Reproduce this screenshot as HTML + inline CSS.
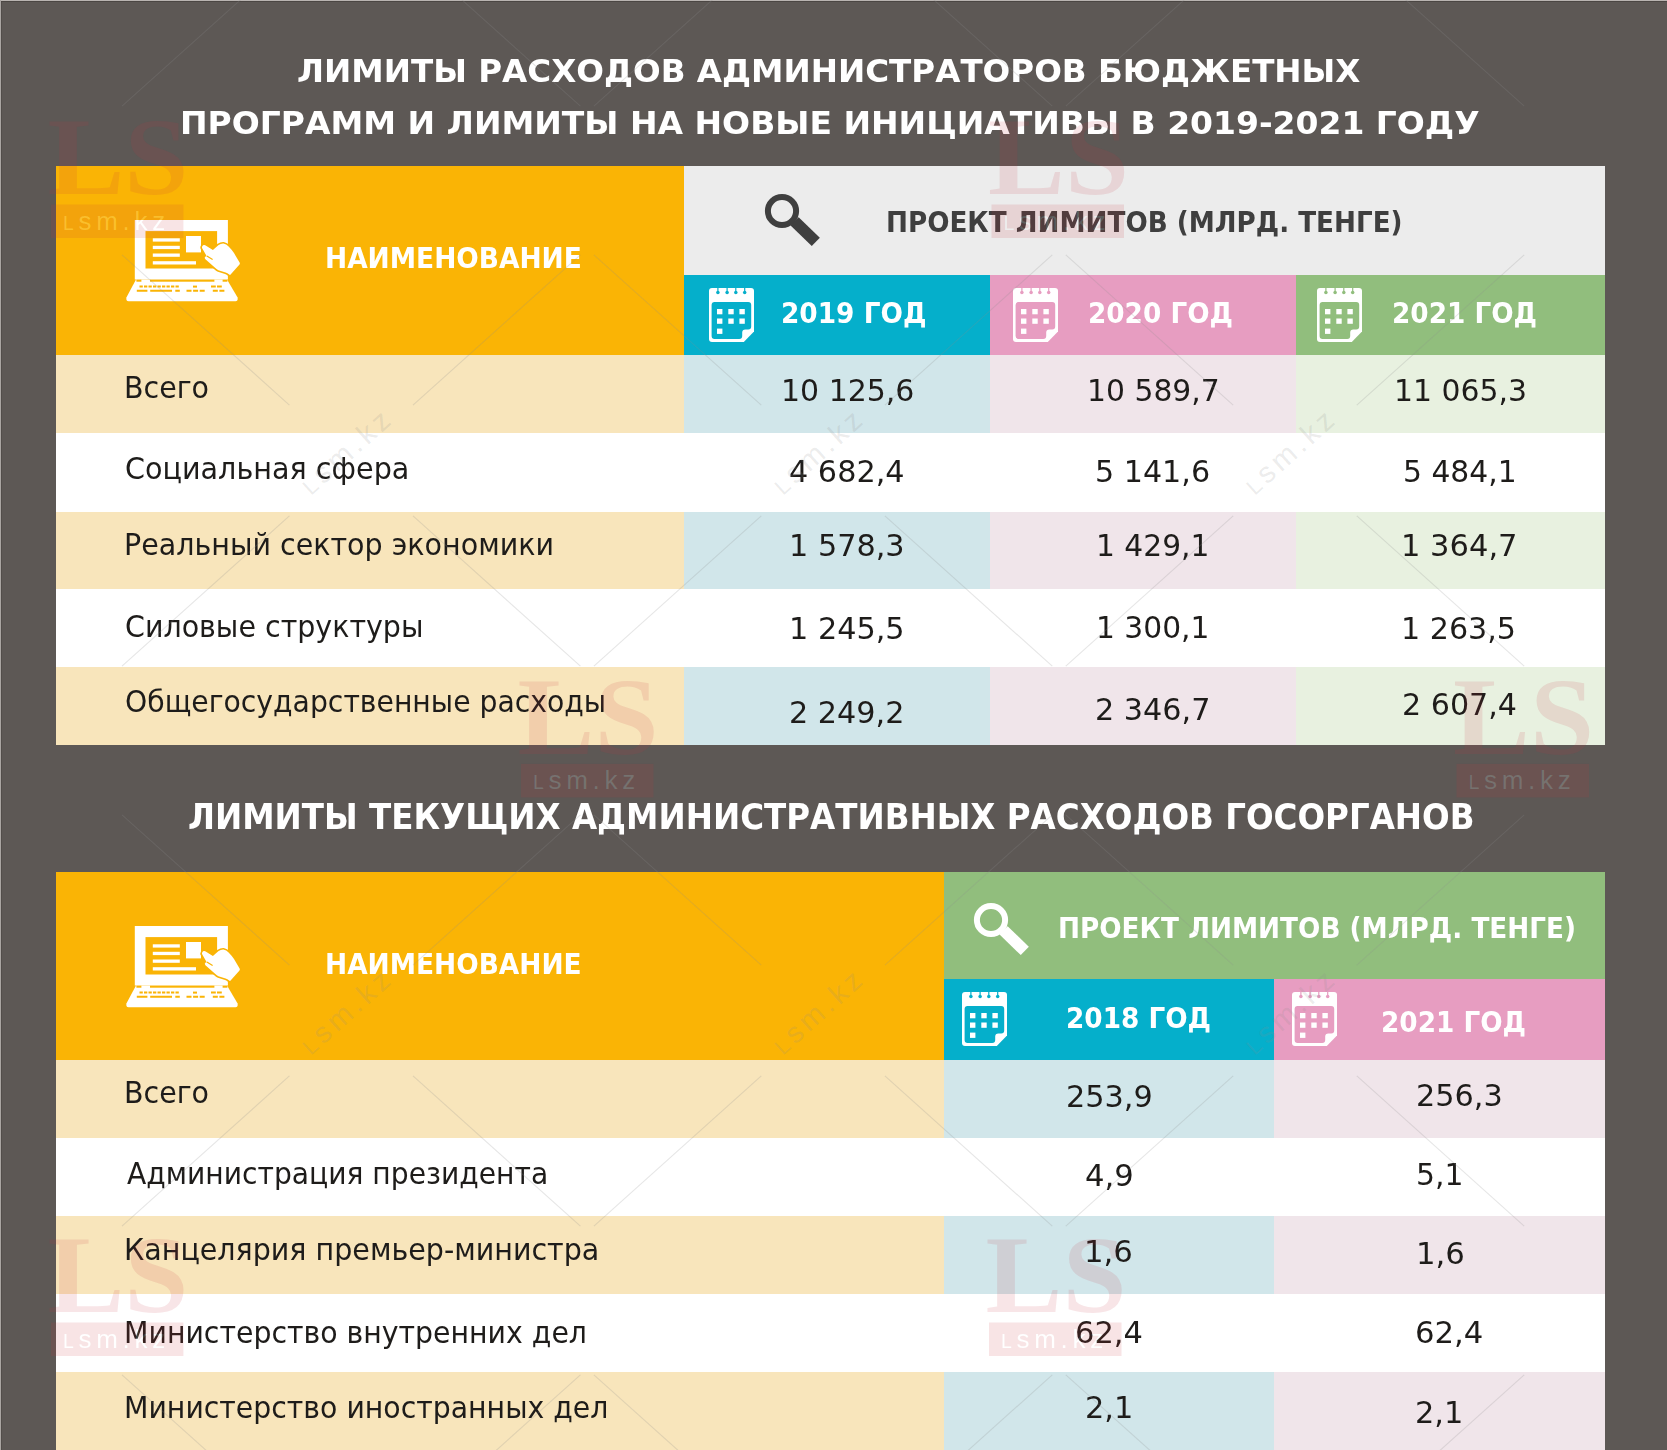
<!DOCTYPE html>
<html lang="ru"><head><meta charset="utf-8"><title>Лимиты расходов администраторов бюджетных программ</title>
<style>
html,body{margin:0;padding:0;background:#5d5855;}
#page{position:relative;width:1667px;height:1450px;overflow:hidden;background:#5d5855;}
.b{position:absolute;}
.t{position:absolute;white-space:pre;line-height:0;transform-origin:0 50%;margin:0;padding:0;}
svg{position:absolute;overflow:visible;}
.wm{position:absolute;}

</style></head><body>
<div id="page">
<div class="b" style="left:0;top:0;width:1667px;height:1px;background:#b9b4b1"></div>
<div class="b" style="left:0;top:1px;width:1667px;height:1px;background:#4b4643"></div>
<div class="b" style="left:0;top:0;width:1px;height:1450px;background:#aaa5a2"></div>
<div class="b" style="left:1px;top:2px;width:1px;height:1448px;background:#524d4a"></div>
<div class="b" style="left:56px;top:165.5px;width:628px;height:189.5px;background:#fab405;"></div>
<div class="b" style="left:684px;top:165.5px;width:921.4px;height:109.0px;background:#ececec;"></div>
<div class="b" style="left:684px;top:274.5px;width:306px;height:80.5px;background:#05afcb;"></div>
<div class="b" style="left:990px;top:274.5px;width:306px;height:80.5px;background:#e79dc1;"></div>
<div class="b" style="left:1296px;top:274.5px;width:309.4px;height:80.5px;background:#91be7d;"></div>
<div class="b" style="left:56px;top:355px;width:628px;height:78px;background:#f8e5bb;"></div>
<div class="b" style="left:684px;top:355px;width:306px;height:78px;background:#d1e6ea;"></div>
<div class="b" style="left:990px;top:355px;width:306px;height:78px;background:#f0e5ea;"></div>
<div class="b" style="left:1296px;top:355px;width:309.4px;height:78px;background:#e8f1e0;"></div>
<div class="b" style="left:56px;top:433px;width:1549.4px;height:78.5px;background:#ffffff;"></div>
<div class="b" style="left:56px;top:511.5px;width:628px;height:77.1px;background:#f8e5bb;"></div>
<div class="b" style="left:684px;top:511.5px;width:306px;height:77.1px;background:#d1e6ea;"></div>
<div class="b" style="left:990px;top:511.5px;width:306px;height:77.1px;background:#f0e5ea;"></div>
<div class="b" style="left:1296px;top:511.5px;width:309.4px;height:77.1px;background:#e8f1e0;"></div>
<div class="b" style="left:56px;top:588.6px;width:1549.4px;height:78.4px;background:#ffffff;"></div>
<div class="b" style="left:56px;top:667px;width:628px;height:78.2px;background:#f8e5bb;"></div>
<div class="b" style="left:684px;top:667px;width:306px;height:78.2px;background:#d1e6ea;"></div>
<div class="b" style="left:990px;top:667px;width:306px;height:78.2px;background:#f0e5ea;"></div>
<div class="b" style="left:1296px;top:667px;width:309.4px;height:78.2px;background:#e8f1e0;"></div>
<div class="b" style="left:56px;top:872px;width:887.8px;height:188px;background:#fab405;"></div>
<div class="b" style="left:943.8px;top:872px;width:661.6px;height:106.5px;background:#91be7d;"></div>
<div class="b" style="left:943.8px;top:978.5px;width:330.2px;height:81.5px;background:#05afcb;"></div>
<div class="b" style="left:1274px;top:978.5px;width:331.4px;height:81.5px;background:#e79dc1;"></div>
<div class="b" style="left:56px;top:1060px;width:887.8px;height:78.3px;background:#f8e5bb;"></div>
<div class="b" style="left:943.8px;top:1060px;width:330.2px;height:78.3px;background:#d1e6ea;"></div>
<div class="b" style="left:1274px;top:1060px;width:331.4px;height:78.3px;background:#f0e5ea;"></div>
<div class="b" style="left:56px;top:1138.3px;width:1549.4px;height:77.9px;background:#ffffff;"></div>
<div class="b" style="left:56px;top:1216.2px;width:887.8px;height:78.2px;background:#f8e5bb;"></div>
<div class="b" style="left:943.8px;top:1216.2px;width:330.2px;height:78.2px;background:#d1e6ea;"></div>
<div class="b" style="left:1274px;top:1216.2px;width:331.4px;height:78.2px;background:#f0e5ea;"></div>
<div class="b" style="left:56px;top:1294.4px;width:1549.4px;height:77.8px;background:#ffffff;"></div>
<div class="b" style="left:56px;top:1372.2px;width:887.8px;height:77.8px;background:#f8e5bb;"></div>
<div class="b" style="left:943.8px;top:1372.2px;width:330.2px;height:77.8px;background:#d1e6ea;"></div>
<div class="b" style="left:1274px;top:1372.2px;width:331.4px;height:77.8px;background:#f0e5ea;"></div>
<svg style="left:125px;top:219px" width="116" height="84" viewBox="125 219 116 84"><path fill="#ffffff" d="M134.8 219.9H227.9V279.5H134.8Z"/><rect fill="#fab405" x="145.5" y="231.1" width="71.6" height="37.4"/><rect fill="#ffffff" x="152.8" y="238.3" width="27.0" height="3.3"/><rect fill="#ffffff" x="152.8" y="245.8" width="27.0" height="3.3"/><rect fill="#ffffff" x="152.8" y="253.5" width="27.0" height="3.3"/><rect fill="#ffffff" x="152.8" y="261.2" width="43.2" height="3.3"/><rect fill="#ffffff" x="186" y="236" width="15" height="16.4"/><path fill="#ffffff" d="M136 279.5H227L237.6 297.5Q238.2 301.3 235.5 301.3H128.5Q125.8 301.3 126.4 297.5Z"/><rect fill="#fab405" x="150" y="279.7" width="64.4" height="2"/><rect fill="#fab405" x="136.4" y="279.7" width="5" height="2"/><rect fill="#fab405" x="222.6" y="279.7" width="4.8" height="2"/><path stroke="#fab405" stroke-width="2" stroke-dasharray="3.3 1.2" fill="none" d="M139.5 286.6H180"/><path stroke="#fab405" stroke-width="2" fill="none" d="M193 286.6H197"/><path stroke="#fab405" stroke-width="2" stroke-dasharray="4.8 1.2" fill="none" d="M211 286.6H222"/><path stroke="#fab405" stroke-width="2" fill="none" d="M136.8 290.8H147.4M150.2 290.8H172M175.3 290.8H179.8"/><path stroke="#fab405" stroke-width="2" stroke-dasharray="5 1.6" fill="none" d="M186.5 290.8H205.5"/><path stroke="#fab405" stroke-width="2" stroke-dasharray="5 1.6" fill="none" d="M212.8 290.8H224.6"/><path d="M202.3 246.2Q203.2 244.4 205.2 245.2L212.9 249.9L218.6 245Q220.8 243.4 223.4 243.5Q226.4 244.2 228.6 246.6Q231.8 249.8 234 253.1L239.6 262.6Q240.2 263.6 239.5 264.6L230.6 274.6Q230 275.2 229.2 274.6Q227.4 273.2 225.6 272.6L218.4 270.2Q217.2 269.8 216.2 268.8L205.4 259.2Q204 257.6 205.6 256.6L206.7 256.2L202.3 248.6Q201.6 247.4 202.3 246.2Z" fill="#fab405" stroke="#fab405" stroke-width="3.2" stroke-linejoin="round"/><path d="M202.3 246.2Q203.2 244.4 205.2 245.2L212.9 249.9L218.6 245Q220.8 243.4 223.4 243.5Q226.4 244.2 228.6 246.6Q231.8 249.8 234 253.1L239.6 262.6Q240.2 263.6 239.5 264.6L230.6 274.6Q230 275.2 229.2 274.6Q227.4 273.2 225.6 272.6L218.4 270.2Q217.2 269.8 216.2 268.8L205.4 259.2Q204 257.6 205.6 256.6L206.7 256.2L202.3 248.6Q201.6 247.4 202.3 246.2Z" fill="#ffffff"/><path d="M206.9 256L212.6 259.4" stroke="#fab405" stroke-width="1.2" fill="none"/></svg>
<svg style="left:125px;top:925px" width="116" height="84" viewBox="125 219 116 84"><path fill="#ffffff" d="M134.8 219.9H227.9V279.5H134.8Z"/><rect fill="#fab405" x="145.5" y="231.1" width="71.6" height="37.4"/><rect fill="#ffffff" x="152.8" y="238.3" width="27.0" height="3.3"/><rect fill="#ffffff" x="152.8" y="245.8" width="27.0" height="3.3"/><rect fill="#ffffff" x="152.8" y="253.5" width="27.0" height="3.3"/><rect fill="#ffffff" x="152.8" y="261.2" width="43.2" height="3.3"/><rect fill="#ffffff" x="186" y="236" width="15" height="16.4"/><path fill="#ffffff" d="M136 279.5H227L237.6 297.5Q238.2 301.3 235.5 301.3H128.5Q125.8 301.3 126.4 297.5Z"/><rect fill="#fab405" x="150" y="279.7" width="64.4" height="2"/><rect fill="#fab405" x="136.4" y="279.7" width="5" height="2"/><rect fill="#fab405" x="222.6" y="279.7" width="4.8" height="2"/><path stroke="#fab405" stroke-width="2" stroke-dasharray="3.3 1.2" fill="none" d="M139.5 286.6H180"/><path stroke="#fab405" stroke-width="2" fill="none" d="M193 286.6H197"/><path stroke="#fab405" stroke-width="2" stroke-dasharray="4.8 1.2" fill="none" d="M211 286.6H222"/><path stroke="#fab405" stroke-width="2" fill="none" d="M136.8 290.8H147.4M150.2 290.8H172M175.3 290.8H179.8"/><path stroke="#fab405" stroke-width="2" stroke-dasharray="5 1.6" fill="none" d="M186.5 290.8H205.5"/><path stroke="#fab405" stroke-width="2" stroke-dasharray="5 1.6" fill="none" d="M212.8 290.8H224.6"/><path d="M202.3 246.2Q203.2 244.4 205.2 245.2L212.9 249.9L218.6 245Q220.8 243.4 223.4 243.5Q226.4 244.2 228.6 246.6Q231.8 249.8 234 253.1L239.6 262.6Q240.2 263.6 239.5 264.6L230.6 274.6Q230 275.2 229.2 274.6Q227.4 273.2 225.6 272.6L218.4 270.2Q217.2 269.8 216.2 268.8L205.4 259.2Q204 257.6 205.6 256.6L206.7 256.2L202.3 248.6Q201.6 247.4 202.3 246.2Z" fill="#fab405" stroke="#fab405" stroke-width="3.2" stroke-linejoin="round"/><path d="M202.3 246.2Q203.2 244.4 205.2 245.2L212.9 249.9L218.6 245Q220.8 243.4 223.4 243.5Q226.4 244.2 228.6 246.6Q231.8 249.8 234 253.1L239.6 262.6Q240.2 263.6 239.5 264.6L230.6 274.6Q230 275.2 229.2 274.6Q227.4 273.2 225.6 272.6L218.4 270.2Q217.2 269.8 216.2 268.8L205.4 259.2Q204 257.6 205.6 256.6L206.7 256.2L202.3 248.6Q201.6 247.4 202.3 246.2Z" fill="#ffffff"/><path d="M206.9 256L212.6 259.4" stroke="#fab405" stroke-width="1.2" fill="none"/></svg>
<svg style="left:757.3px;top:186.1px" width="70" height="70" viewBox="-25 -25 70 70"><circle cx="0" cy="0" r="14.1" fill="none" stroke="#3f3f3f" stroke-width="6"/><path d="M12.6 10.3L33.8 30.9" stroke="#3f3f3f" stroke-width="11.6" fill="none"/></svg>
<svg style="left:965.5px;top:895.1px" width="70" height="70" viewBox="-25 -25 70 70"><circle cx="0" cy="0" r="14.1" fill="none" stroke="#ffffff" stroke-width="6"/><path d="M12.6 10.3L33.8 30.9" stroke="#ffffff" stroke-width="11.6" fill="none"/></svg>
<svg style="left:708.8px;top:288px" width="45" height="54" viewBox="0 0 45 54"><path fill="#ffffff" d="M3 0H42Q45 0 45 3V43.6L34.8 54H3Q0 54 0 51V3Q0 0 3 0Z"/><path fill="#05afcb" d="M5.6 14H39.2Q42.2 14 42.2 17V38.4Q42.2 41.4 39.2 41.4H36.4Q33.2 41.4 33.2 44.6V48Q33.2 50.9 30.2 50.9H5.6Q2.6 50.9 2.6 47.9V17Q2.6 14 5.6 14Z"/><circle fill="#05afcb" cx="8.9" cy="4.4" r="1.75"/><rect fill="#05afcb" x="8.3" y="-0.2" width="1.2" height="4"/><circle fill="#05afcb" cx="18.1" cy="4.4" r="1.75"/><rect fill="#05afcb" x="17.5" y="-0.2" width="1.2" height="4"/><circle fill="#05afcb" cx="26.8" cy="4.4" r="1.75"/><rect fill="#05afcb" x="26.2" y="-0.2" width="1.2" height="4"/><circle fill="#05afcb" cx="35.7" cy="4.4" r="1.75"/><rect fill="#05afcb" x="35.1" y="-0.2" width="1.2" height="4"/><rect fill="#ffffff" x="8.0" y="21.0" width="5.4" height="5.3"/><rect fill="#ffffff" x="19.3" y="21.0" width="5.4" height="5.3"/><rect fill="#ffffff" x="30.4" y="21.0" width="5.4" height="5.3"/><rect fill="#ffffff" x="8.0" y="30.5" width="5.4" height="5.3"/><rect fill="#ffffff" x="19.3" y="30.5" width="5.4" height="5.3"/><rect fill="#ffffff" x="30.4" y="30.5" width="5.4" height="5.3"/><rect fill="#ffffff" x="8.0" y="40.6" width="5.4" height="5.3"/></svg>
<svg style="left:1012.5px;top:288px" width="45" height="54" viewBox="0 0 45 54"><path fill="#ffffff" d="M3 0H42Q45 0 45 3V43.6L34.8 54H3Q0 54 0 51V3Q0 0 3 0Z"/><path fill="#e79dc1" d="M5.6 14H39.2Q42.2 14 42.2 17V38.4Q42.2 41.4 39.2 41.4H36.4Q33.2 41.4 33.2 44.6V48Q33.2 50.9 30.2 50.9H5.6Q2.6 50.9 2.6 47.9V17Q2.6 14 5.6 14Z"/><circle fill="#e79dc1" cx="8.9" cy="4.4" r="1.75"/><rect fill="#e79dc1" x="8.3" y="-0.2" width="1.2" height="4"/><circle fill="#e79dc1" cx="18.1" cy="4.4" r="1.75"/><rect fill="#e79dc1" x="17.5" y="-0.2" width="1.2" height="4"/><circle fill="#e79dc1" cx="26.8" cy="4.4" r="1.75"/><rect fill="#e79dc1" x="26.2" y="-0.2" width="1.2" height="4"/><circle fill="#e79dc1" cx="35.7" cy="4.4" r="1.75"/><rect fill="#e79dc1" x="35.1" y="-0.2" width="1.2" height="4"/><rect fill="#ffffff" x="8.0" y="21.0" width="5.4" height="5.3"/><rect fill="#ffffff" x="19.3" y="21.0" width="5.4" height="5.3"/><rect fill="#ffffff" x="30.4" y="21.0" width="5.4" height="5.3"/><rect fill="#ffffff" x="8.0" y="30.5" width="5.4" height="5.3"/><rect fill="#ffffff" x="19.3" y="30.5" width="5.4" height="5.3"/><rect fill="#ffffff" x="30.4" y="30.5" width="5.4" height="5.3"/><rect fill="#ffffff" x="8.0" y="40.6" width="5.4" height="5.3"/></svg>
<svg style="left:1316.6px;top:288px" width="45" height="54" viewBox="0 0 45 54"><path fill="#ffffff" d="M3 0H42Q45 0 45 3V43.6L34.8 54H3Q0 54 0 51V3Q0 0 3 0Z"/><path fill="#91be7d" d="M5.6 14H39.2Q42.2 14 42.2 17V38.4Q42.2 41.4 39.2 41.4H36.4Q33.2 41.4 33.2 44.6V48Q33.2 50.9 30.2 50.9H5.6Q2.6 50.9 2.6 47.9V17Q2.6 14 5.6 14Z"/><circle fill="#91be7d" cx="8.9" cy="4.4" r="1.75"/><rect fill="#91be7d" x="8.3" y="-0.2" width="1.2" height="4"/><circle fill="#91be7d" cx="18.1" cy="4.4" r="1.75"/><rect fill="#91be7d" x="17.5" y="-0.2" width="1.2" height="4"/><circle fill="#91be7d" cx="26.8" cy="4.4" r="1.75"/><rect fill="#91be7d" x="26.2" y="-0.2" width="1.2" height="4"/><circle fill="#91be7d" cx="35.7" cy="4.4" r="1.75"/><rect fill="#91be7d" x="35.1" y="-0.2" width="1.2" height="4"/><rect fill="#ffffff" x="8.0" y="21.0" width="5.4" height="5.3"/><rect fill="#ffffff" x="19.3" y="21.0" width="5.4" height="5.3"/><rect fill="#ffffff" x="30.4" y="21.0" width="5.4" height="5.3"/><rect fill="#ffffff" x="8.0" y="30.5" width="5.4" height="5.3"/><rect fill="#ffffff" x="19.3" y="30.5" width="5.4" height="5.3"/><rect fill="#ffffff" x="30.4" y="30.5" width="5.4" height="5.3"/><rect fill="#ffffff" x="8.0" y="40.6" width="5.4" height="5.3"/></svg>
<svg style="left:962.1px;top:992.3px" width="45" height="54" viewBox="0 0 45 54"><path fill="#ffffff" d="M3 0H42Q45 0 45 3V43.6L34.8 54H3Q0 54 0 51V3Q0 0 3 0Z"/><path fill="#05afcb" d="M5.6 14H39.2Q42.2 14 42.2 17V38.4Q42.2 41.4 39.2 41.4H36.4Q33.2 41.4 33.2 44.6V48Q33.2 50.9 30.2 50.9H5.6Q2.6 50.9 2.6 47.9V17Q2.6 14 5.6 14Z"/><circle fill="#05afcb" cx="8.9" cy="4.4" r="1.75"/><rect fill="#05afcb" x="8.3" y="-0.2" width="1.2" height="4"/><circle fill="#05afcb" cx="18.1" cy="4.4" r="1.75"/><rect fill="#05afcb" x="17.5" y="-0.2" width="1.2" height="4"/><circle fill="#05afcb" cx="26.8" cy="4.4" r="1.75"/><rect fill="#05afcb" x="26.2" y="-0.2" width="1.2" height="4"/><circle fill="#05afcb" cx="35.7" cy="4.4" r="1.75"/><rect fill="#05afcb" x="35.1" y="-0.2" width="1.2" height="4"/><rect fill="#ffffff" x="8.0" y="21.0" width="5.4" height="5.3"/><rect fill="#ffffff" x="19.3" y="21.0" width="5.4" height="5.3"/><rect fill="#ffffff" x="30.4" y="21.0" width="5.4" height="5.3"/><rect fill="#ffffff" x="8.0" y="30.5" width="5.4" height="5.3"/><rect fill="#ffffff" x="19.3" y="30.5" width="5.4" height="5.3"/><rect fill="#ffffff" x="30.4" y="30.5" width="5.4" height="5.3"/><rect fill="#ffffff" x="8.0" y="40.6" width="5.4" height="5.3"/></svg>
<svg style="left:1292px;top:992.3px" width="45" height="54" viewBox="0 0 45 54"><path fill="#ffffff" d="M3 0H42Q45 0 45 3V43.6L34.8 54H3Q0 54 0 51V3Q0 0 3 0Z"/><path fill="#e79dc1" d="M5.6 14H39.2Q42.2 14 42.2 17V38.4Q42.2 41.4 39.2 41.4H36.4Q33.2 41.4 33.2 44.6V48Q33.2 50.9 30.2 50.9H5.6Q2.6 50.9 2.6 47.9V17Q2.6 14 5.6 14Z"/><circle fill="#e79dc1" cx="8.9" cy="4.4" r="1.75"/><rect fill="#e79dc1" x="8.3" y="-0.2" width="1.2" height="4"/><circle fill="#e79dc1" cx="18.1" cy="4.4" r="1.75"/><rect fill="#e79dc1" x="17.5" y="-0.2" width="1.2" height="4"/><circle fill="#e79dc1" cx="26.8" cy="4.4" r="1.75"/><rect fill="#e79dc1" x="26.2" y="-0.2" width="1.2" height="4"/><circle fill="#e79dc1" cx="35.7" cy="4.4" r="1.75"/><rect fill="#e79dc1" x="35.1" y="-0.2" width="1.2" height="4"/><rect fill="#ffffff" x="8.0" y="21.0" width="5.4" height="5.3"/><rect fill="#ffffff" x="19.3" y="21.0" width="5.4" height="5.3"/><rect fill="#ffffff" x="30.4" y="21.0" width="5.4" height="5.3"/><rect fill="#ffffff" x="8.0" y="30.5" width="5.4" height="5.3"/><rect fill="#ffffff" x="19.3" y="30.5" width="5.4" height="5.3"/><rect fill="#ffffff" x="30.4" y="30.5" width="5.4" height="5.3"/><rect fill="#ffffff" x="8.0" y="40.6" width="5.4" height="5.3"/></svg>
<h1 class="t" style="left:296.78px;top:71.30px;font-family:'DejaVu Sans', 'Liberation Sans', sans-serif;font-weight:bold;font-size:32px;color:#ffffff;transform:scaleX(1.0176)">ЛИМИТЫ РАСХОДОВ АДМИНИСТРАТОРОВ БЮДЖЕТНЫХ</h1>
<h1 class="t" style="left:180.14px;top:123.40px;font-family:'DejaVu Sans', 'Liberation Sans', sans-serif;font-weight:bold;font-size:32px;color:#ffffff;transform:scaleX(1.0299)">ПРОГРАММ И ЛИМИТЫ НА НОВЫЕ ИНИЦИАТИВЫ В 2019-2021 ГОДУ</h1>
<h1 class="t" style="left:187.97px;top:816.70px;font-family:'DejaVu Sans', 'Liberation Sans', sans-serif;font-weight:bold;font-size:35px;color:#ffffff;transform:scaleX(0.9295)">ЛИМИТЫ ТЕКУЩИХ АДМИНИСТРАТИВНЫХ РАСХОДОВ ГОСОРГАНОВ</h1>
<span class="t" style="left:324.70px;top:259.00px;font-family:'DejaVu Sans', 'Liberation Sans', sans-serif;font-weight:bold;font-size:27.8px;color:#ffffff;transform:scaleX(0.9519)">НАИМЕНОВАНИЕ</span>
<span class="t" style="left:886.01px;top:223.20px;font-family:'DejaVu Sans', 'Liberation Sans', sans-serif;font-weight:bold;font-size:27.8px;color:#3f3f3f;transform:scaleX(0.9430)">ПРОЕКТ ЛИМИТОВ (МЛРД. ТЕНГЕ)</span>
<span class="t" style="left:780.70px;top:313.80px;font-family:'DejaVu Sans', 'Liberation Sans', sans-serif;font-weight:bold;font-size:27.8px;color:#ffffff;transform:scaleX(0.9500)">2019 ГОД</span>
<span class="t" style="left:1087.71px;top:313.80px;font-family:'DejaVu Sans', 'Liberation Sans', sans-serif;font-weight:bold;font-size:27.8px;color:#ffffff;transform:scaleX(0.9467)">2020 ГОД</span>
<span class="t" style="left:1391.71px;top:313.80px;font-family:'DejaVu Sans', 'Liberation Sans', sans-serif;font-weight:bold;font-size:27.8px;color:#ffffff;transform:scaleX(0.9473)">2021 ГОД</span>
<span class="t" style="left:123.71px;top:387.80px;font-family:'DejaVu Sans Condensed', 'DejaVu Sans', 'Liberation Sans', sans-serif;font-weight:normal;font-size:30.3px;color:#1e1c1a;transform:scaleX(1.0436)">Всего</span>
<span class="t" style="left:124.75px;top:469.20px;font-family:'DejaVu Sans Condensed', 'DejaVu Sans', 'Liberation Sans', sans-serif;font-weight:normal;font-size:30.3px;color:#1e1c1a;transform:scaleX(1.0500)">Социальная сфера</span>
<span class="t" style="left:123.71px;top:545.40px;font-family:'DejaVu Sans Condensed', 'DejaVu Sans', 'Liberation Sans', sans-serif;font-weight:normal;font-size:30.3px;color:#1e1c1a;transform:scaleX(1.0464)">Реальный сектор экономики</span>
<span class="t" style="left:124.75px;top:627.20px;font-family:'DejaVu Sans Condensed', 'DejaVu Sans', 'Liberation Sans', sans-serif;font-weight:normal;font-size:30.3px;color:#1e1c1a;transform:scaleX(1.0456)">Силовые структуры</span>
<span class="t" style="left:124.76px;top:702.40px;font-family:'DejaVu Sans Condensed', 'DejaVu Sans', 'Liberation Sans', sans-serif;font-weight:normal;font-size:30.3px;color:#1e1c1a;transform:scaleX(1.0367)">Общегосударственные расходы</span>
<span class="t" style="left:781.08px;top:389.60px;font-family:'DejaVu Sans', 'Liberation Sans', sans-serif;font-weight:normal;font-size:30.8px;color:#1e1c1a;transform:scaleX(0.9727)">10 125,6</span>
<span class="t" style="left:788.82px;top:470.50px;font-family:'DejaVu Sans', 'Liberation Sans', sans-serif;font-weight:normal;font-size:30.8px;color:#1e1c1a;transform:scaleX(0.9826)">4 682,4</span>
<span class="t" style="left:788.55px;top:545.40px;font-family:'DejaVu Sans', 'Liberation Sans', sans-serif;font-weight:normal;font-size:30.8px;color:#1e1c1a;transform:scaleX(0.9830)">1 578,3</span>
<span class="t" style="left:788.55px;top:627.80px;font-family:'DejaVu Sans', 'Liberation Sans', sans-serif;font-weight:normal;font-size:30.8px;color:#1e1c1a;transform:scaleX(0.9830)">1 245,5</span>
<span class="t" style="left:788.64px;top:711.70px;font-family:'DejaVu Sans', 'Liberation Sans', sans-serif;font-weight:normal;font-size:30.8px;color:#1e1c1a;transform:scaleX(0.9823)">2 249,2</span>
<span class="t" style="left:1087.10px;top:389.60px;font-family:'DejaVu Sans', 'Liberation Sans', sans-serif;font-weight:normal;font-size:30.8px;color:#1e1c1a;transform:scaleX(0.9682)">10 589,7</span>
<span class="t" style="left:1094.64px;top:470.80px;font-family:'DejaVu Sans', 'Liberation Sans', sans-serif;font-weight:normal;font-size:30.8px;color:#1e1c1a;transform:scaleX(0.9789)">5 141,6</span>
<span class="t" style="left:1095.50px;top:545.40px;font-family:'DejaVu Sans', 'Liberation Sans', sans-serif;font-weight:normal;font-size:30.8px;color:#1e1c1a;transform:scaleX(0.9652)">1 429,1</span>
<span class="t" style="left:1095.50px;top:627.40px;font-family:'DejaVu Sans', 'Liberation Sans', sans-serif;font-weight:normal;font-size:30.8px;color:#1e1c1a;transform:scaleX(0.9652)">1 300,1</span>
<span class="t" style="left:1094.84px;top:709.00px;font-family:'DejaVu Sans', 'Liberation Sans', sans-serif;font-weight:normal;font-size:30.8px;color:#1e1c1a;transform:scaleX(0.9814)">2 346,7</span>
<span class="t" style="left:1394.49px;top:389.60px;font-family:'DejaVu Sans', 'Liberation Sans', sans-serif;font-weight:normal;font-size:30.8px;color:#1e1c1a;transform:scaleX(0.9697)">11 065,3</span>
<span class="t" style="left:1402.87px;top:470.80px;font-family:'DejaVu Sans', 'Liberation Sans', sans-serif;font-weight:normal;font-size:30.8px;color:#1e1c1a;transform:scaleX(0.9664)">5 484,1</span>
<span class="t" style="left:1401.43px;top:545.40px;font-family:'DejaVu Sans', 'Liberation Sans', sans-serif;font-weight:normal;font-size:30.8px;color:#1e1c1a;transform:scaleX(0.9911)">1 364,7</span>
<span class="t" style="left:1401.46px;top:627.80px;font-family:'DejaVu Sans', 'Liberation Sans', sans-serif;font-weight:normal;font-size:30.8px;color:#1e1c1a;transform:scaleX(0.9786)">1 263,5</span>
<span class="t" style="left:1401.94px;top:704.30px;font-family:'DejaVu Sans', 'Liberation Sans', sans-serif;font-weight:normal;font-size:30.8px;color:#1e1c1a;transform:scaleX(0.9781)">2 607,4</span>
<span class="t" style="left:324.70px;top:965.00px;font-family:'DejaVu Sans', 'Liberation Sans', sans-serif;font-weight:bold;font-size:27.8px;color:#ffffff;transform:scaleX(0.9511)">НАИМЕНОВАНИЕ</span>
<span class="t" style="left:1057.51px;top:928.60px;font-family:'DejaVu Sans', 'Liberation Sans', sans-serif;font-weight:bold;font-size:27.8px;color:#ffffff;transform:scaleX(0.9456)">ПРОЕКТ ЛИМИТОВ (МЛРД. ТЕНГЕ)</span>
<span class="t" style="left:1065.51px;top:1018.60px;font-family:'DejaVu Sans', 'Liberation Sans', sans-serif;font-weight:bold;font-size:27.8px;color:#ffffff;transform:scaleX(0.9473)">2018 ГОД</span>
<span class="t" style="left:1380.51px;top:1023.20px;font-family:'DejaVu Sans', 'Liberation Sans', sans-serif;font-weight:bold;font-size:27.8px;color:#ffffff;transform:scaleX(0.9473)">2021 ГОД</span>
<span class="t" style="left:123.71px;top:1092.60px;font-family:'DejaVu Sans Condensed', 'DejaVu Sans', 'Liberation Sans', sans-serif;font-weight:normal;font-size:30.3px;color:#1e1c1a;transform:scaleX(1.0436)">Всего</span>
<span class="t" style="left:126.60px;top:1174.40px;font-family:'DejaVu Sans Condensed', 'DejaVu Sans', 'Liberation Sans', sans-serif;font-weight:normal;font-size:30.3px;color:#1e1c1a;transform:scaleX(1.0333)">Администрация президента</span>
<span class="t" style="left:123.71px;top:1250.20px;font-family:'DejaVu Sans Condensed', 'DejaVu Sans', 'Liberation Sans', sans-serif;font-weight:normal;font-size:30.3px;color:#1e1c1a;transform:scaleX(1.0464)">Канцелярия премьер-министра</span>
<span class="t" style="left:123.72px;top:1332.70px;font-family:'DejaVu Sans Condensed', 'DejaVu Sans', 'Liberation Sans', sans-serif;font-weight:normal;font-size:30.3px;color:#1e1c1a;transform:scaleX(1.0401)">Министерство внутренних дел</span>
<span class="t" style="left:123.72px;top:1407.60px;font-family:'DejaVu Sans Condensed', 'DejaVu Sans', 'Liberation Sans', sans-serif;font-weight:normal;font-size:30.3px;color:#1e1c1a;transform:scaleX(1.0394)">Министерство иностранных дел</span>
<span class="t" style="left:1065.73px;top:1095.90px;font-family:'DejaVu Sans', 'Liberation Sans', sans-serif;font-weight:normal;font-size:30.8px;color:#1e1c1a;transform:scaleX(0.9845)">253,9</span>
<span class="t" style="left:1085.00px;top:1175.30px;font-family:'DejaVu Sans', 'Liberation Sans', sans-serif;font-weight:normal;font-size:30.8px;color:#1e1c1a;transform:scaleX(0.9957)">4,9</span>
<span class="t" style="left:1084.11px;top:1251.30px;font-family:'DejaVu Sans', 'Liberation Sans', sans-serif;font-weight:normal;font-size:30.8px;color:#1e1c1a;transform:scaleX(0.9977)">1,6</span>
<span class="t" style="left:1074.62px;top:1331.80px;font-family:'DejaVu Sans', 'Liberation Sans', sans-serif;font-weight:normal;font-size:30.8px;color:#1e1c1a;transform:scaleX(0.9908)">62,4</span>
<span class="t" style="left:1085.03px;top:1407.10px;font-family:'DejaVu Sans', 'Liberation Sans', sans-serif;font-weight:normal;font-size:30.8px;color:#1e1c1a;transform:scaleX(0.9867)">2,1</span>
<span class="t" style="left:1415.73px;top:1095.00px;font-family:'DejaVu Sans', 'Liberation Sans', sans-serif;font-weight:normal;font-size:30.8px;color:#1e1c1a;transform:scaleX(0.9833)">256,3</span>
<span class="t" style="left:1416.06px;top:1173.50px;font-family:'DejaVu Sans', 'Liberation Sans', sans-serif;font-weight:normal;font-size:30.8px;color:#1e1c1a;transform:scaleX(0.9689)">5,1</span>
<span class="t" style="left:1415.81px;top:1253.00px;font-family:'DejaVu Sans', 'Liberation Sans', sans-serif;font-weight:normal;font-size:30.8px;color:#1e1c1a;transform:scaleX(0.9977)">1,6</span>
<span class="t" style="left:1414.81px;top:1331.80px;font-family:'DejaVu Sans', 'Liberation Sans', sans-serif;font-weight:normal;font-size:30.8px;color:#1e1c1a;transform:scaleX(0.9969)">62,4</span>
<span class="t" style="left:1415.43px;top:1411.60px;font-family:'DejaVu Sans', 'Liberation Sans', sans-serif;font-weight:normal;font-size:30.8px;color:#1e1c1a;transform:scaleX(0.9867)">2,1</span>
<svg class="wm" style="left:0;top:0;pointer-events:none" width="1667" height="1450" viewBox="0 0 1667 1450"><defs><mask id="lsmk" maskUnits="userSpaceOnUse" x="0" y="80" width="140" height="40"><rect x="0" y="80" width="140" height="40" fill="#fff"/><text x="12.5" y="109" font-family="'Liberation Sans', 'DejaVu Sans', sans-serif" font-size="26" letter-spacing="4.7" fill="#000"><tspan font-size="19.5">L</tspan>sm.kz</text></mask></defs><path d="M289.4 -154.9L122.0 -305.2M289.4 -44.1L122.0 106.2M413.0 -154.9L580.4 -305.2M413.0 -44.1L580.4 106.2M289.4 405.1L122.0 254.8M289.4 515.9L122.0 666.2M413.0 405.1L580.4 254.8M413.0 515.9L580.4 666.2M289.4 965.1L122.0 814.8M289.4 1075.9L122.0 1226.2M413.0 965.1L580.4 814.8M413.0 1075.9L580.4 1226.2M289.4 1525.1L122.0 1374.8M289.4 1635.9L122.0 1786.2M413.0 1525.1L580.4 1374.8M413.0 1635.9L580.4 1786.2M761.3 -154.9L593.9 -305.2M761.3 -44.1L593.9 106.2M884.9 -154.9L1052.3 -305.2M884.9 -44.1L1052.3 106.2M761.3 405.1L593.9 254.8M761.3 515.9L593.9 666.2M884.9 405.1L1052.3 254.8M884.9 515.9L1052.3 666.2M761.3 965.1L593.9 814.8M761.3 1075.9L593.9 1226.2M884.9 965.1L1052.3 814.8M884.9 1075.9L1052.3 1226.2M761.3 1525.1L593.9 1374.8M761.3 1635.9L593.9 1786.2M884.9 1525.1L1052.3 1374.8M884.9 1635.9L1052.3 1786.2M1233.2 -154.9L1065.8 -305.2M1233.2 -44.1L1065.8 106.2M1356.8 -154.9L1524.2 -305.2M1356.8 -44.1L1524.2 106.2M1233.2 405.1L1065.8 254.8M1233.2 515.9L1065.8 666.2M1356.8 405.1L1524.2 254.8M1356.8 515.9L1524.2 666.2M1233.2 965.1L1065.8 814.8M1233.2 1075.9L1065.8 1226.2M1356.8 965.1L1524.2 814.8M1356.8 1075.9L1524.2 1226.2M1233.2 1525.1L1065.8 1374.8M1233.2 1635.9L1065.8 1786.2M1356.8 1525.1L1524.2 1374.8M1356.8 1635.9L1524.2 1786.2" stroke="#8c8c8c" stroke-opacity="0.22" stroke-width="1.1" fill="none"/><text x="347.2" y="451.5" transform="rotate(-41.8 347.2 451.5)" text-anchor="middle" dy="9" font-family="'Liberation Sans', 'DejaVu Sans', sans-serif" font-size="29" letter-spacing="4.2" fill="#8c8c8c" fill-opacity="0.175"><tspan font-size="22">L</tspan>sm.kz</text><text x="347.2" y="1011.5" transform="rotate(-41.8 347.2 1011.5)" text-anchor="middle" dy="9" font-family="'Liberation Sans', 'DejaVu Sans', sans-serif" font-size="29" letter-spacing="4.2" fill="#8c8c8c" fill-opacity="0.175"><tspan font-size="22">L</tspan>sm.kz</text><text x="819.1" y="451.5" transform="rotate(-41.8 819.1 451.5)" text-anchor="middle" dy="9" font-family="'Liberation Sans', 'DejaVu Sans', sans-serif" font-size="29" letter-spacing="4.2" fill="#8c8c8c" fill-opacity="0.175"><tspan font-size="22">L</tspan>sm.kz</text><text x="819.1" y="1011.5" transform="rotate(-41.8 819.1 1011.5)" text-anchor="middle" dy="9" font-family="'Liberation Sans', 'DejaVu Sans', sans-serif" font-size="29" letter-spacing="4.2" fill="#8c8c8c" fill-opacity="0.175"><tspan font-size="22">L</tspan>sm.kz</text><text x="1291.0" y="451.5" transform="rotate(-41.8 1291.0 451.5)" text-anchor="middle" dy="9" font-family="'Liberation Sans', 'DejaVu Sans', sans-serif" font-size="29" letter-spacing="4.2" fill="#8c8c8c" fill-opacity="0.175"><tspan font-size="22">L</tspan>sm.kz</text><text x="1291.0" y="1011.5" transform="rotate(-41.8 1291.0 1011.5)" text-anchor="middle" dy="9" font-family="'Liberation Sans', 'DejaVu Sans', sans-serif" font-size="29" letter-spacing="4.2" fill="#8c8c8c" fill-opacity="0.175"><tspan font-size="22">L</tspan>sm.kz</text><g transform="translate(50.4 121)"><text x="-3" y="73.3" font-family="'Liberation Serif', 'DejaVu Serif', serif" font-weight="bold" font-size="110" textLength="141" lengthAdjust="spacingAndGlyphs" fill="#c8323c" fill-opacity="0.125">LS</text><rect x="0.5" y="83.5" width="132.5" height="33.5" fill="#c8323c" fill-opacity="0.135" mask="url(#lsmk)"/><text x="12.5" y="109" font-family="'Liberation Sans', 'DejaVu Sans', sans-serif" font-size="26" letter-spacing="4.7" fill="#fff" fill-opacity="0.16"><tspan font-size="19.5">L</tspan>sm.kz</text></g><g transform="translate(991 121)"><text x="-3" y="73.3" font-family="'Liberation Serif', 'DejaVu Serif', serif" font-weight="bold" font-size="110" textLength="141" lengthAdjust="spacingAndGlyphs" fill="#c8323c" fill-opacity="0.125">LS</text><rect x="0.5" y="83.5" width="132.5" height="33.5" fill="#c8323c" fill-opacity="0.135" mask="url(#lsmk)"/><text x="12.5" y="109" font-family="'Liberation Sans', 'DejaVu Sans', sans-serif" font-size="26" letter-spacing="4.7" fill="#fff" fill-opacity="0.16"><tspan font-size="19.5">L</tspan>sm.kz</text></g><g transform="translate(520.5 680.4)"><text x="-3" y="73.3" font-family="'Liberation Serif', 'DejaVu Serif', serif" font-weight="bold" font-size="110" textLength="141" lengthAdjust="spacingAndGlyphs" fill="#c8323c" fill-opacity="0.125">LS</text><rect x="0.5" y="83.5" width="132.5" height="33.5" fill="#c8323c" fill-opacity="0.135" mask="url(#lsmk)"/><text x="12.5" y="109" font-family="'Liberation Sans', 'DejaVu Sans', sans-serif" font-size="26" letter-spacing="4.7" fill="#fff" fill-opacity="0.16"><tspan font-size="19.5">L</tspan>sm.kz</text></g><g transform="translate(1456 680.4)"><text x="-3" y="73.3" font-family="'Liberation Serif', 'DejaVu Serif', serif" font-weight="bold" font-size="110" textLength="141" lengthAdjust="spacingAndGlyphs" fill="#c8323c" fill-opacity="0.125">LS</text><rect x="0.5" y="83.5" width="132.5" height="33.5" fill="#c8323c" fill-opacity="0.135" mask="url(#lsmk)"/><text x="12.5" y="109" font-family="'Liberation Sans', 'DejaVu Sans', sans-serif" font-size="26" letter-spacing="4.7" fill="#fff" fill-opacity="0.16"><tspan font-size="19.5">L</tspan>sm.kz</text></g><g transform="translate(50.4 1239)"><text x="-3" y="73.3" font-family="'Liberation Serif', 'DejaVu Serif', serif" font-weight="bold" font-size="110" textLength="141" lengthAdjust="spacingAndGlyphs" fill="#c8323c" fill-opacity="0.125">LS</text><rect x="0.5" y="83.5" width="132.5" height="33.5" fill="#c8323c" fill-opacity="0.135" mask="url(#lsmk)"/><text x="12.5" y="109" font-family="'Liberation Sans', 'DejaVu Sans', sans-serif" font-size="26" letter-spacing="4.7" fill="#fff" fill-opacity="0.16"><tspan font-size="19.5">L</tspan>sm.kz</text></g><g transform="translate(988.5 1239)"><text x="-3" y="73.3" font-family="'Liberation Serif', 'DejaVu Serif', serif" font-weight="bold" font-size="110" textLength="141" lengthAdjust="spacingAndGlyphs" fill="#c8323c" fill-opacity="0.125">LS</text><rect x="0.5" y="83.5" width="132.5" height="33.5" fill="#c8323c" fill-opacity="0.135" mask="url(#lsmk)"/><text x="12.5" y="109" font-family="'Liberation Sans', 'DejaVu Sans', sans-serif" font-size="26" letter-spacing="4.7" fill="#fff" fill-opacity="0.16"><tspan font-size="19.5">L</tspan>sm.kz</text></g></svg>
</div></body></html>
